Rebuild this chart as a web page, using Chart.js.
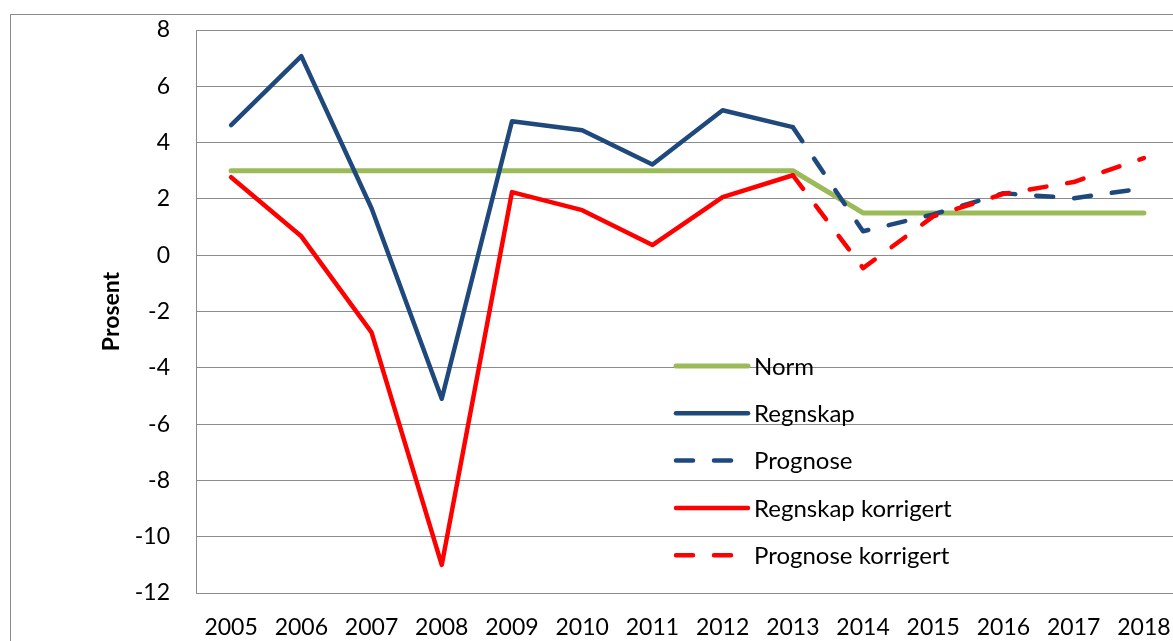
<!DOCTYPE html>
<html>
<head>
<meta charset="utf-8">
<script src="https://cdn.jsdelivr.net/npm/chart.js@4/dist/chart.umd.min.js"></script>
<style>
  html, body { margin: 0; padding: 0; background: #fff; overflow: hidden; }
  #wrap { position: relative; width: 1173px; height: 641px; overflow: hidden; }
  #frame { position: absolute; left: 10px; top: 14px; width: 1300px; height: 800px; border: 1px solid #8c8c8c; }
  #myChart { position: absolute; left: 0; top: 0; }
</style>
</head>
<body>
<div id="wrap">
  <div id="frame"></div>
  <canvas id="myChart" width="1200" height="641"></canvas>
</div>
<script>
// category labels (years)
const years = ['2005', '2006', '2007', '2008', '2009', '2010', '2011', '2012', '2013', '2014', '2015', '2016', '2017', '2018'];

// series values
const norm = [3, 3, 3, 3, 3, 3, 3, 3, 3, 1.5, 1.5, 1.5, 1.5, 1.5];
const regnskap = [4.62, 7.07, 1.67, -5.1, 4.76, 4.44, 3.22, 5.15, 4.55, null, null, null, null, null];
const prognose = [null, null, null, null, null, null, null, null, 4.55, 0.85, 1.45, 2.2, 2.02, 2.38];
const regnskapKorr = [2.77, 0.67, -2.74, -11.0, 2.24, 1.6, 0.36, 2.06, 2.84, null, null, null, null, null];
const prognoseKorr = [null, null, null, null, null, null, null, null, 2.84, -0.46, 1.38, 2.18, 2.6, 3.45];

const yMin = -12, yMax = 8, yStep = 2;

const FONT = 'Lato, "Open Sans", sans-serif';
const BLUE = '#1F497D';
const GREEN = '#9BBB59';
const RED = '#FF0000';
const GRID = '#8c8c8c';

function series(label, data, color, width, dashed, order) {
    return {
        label: label,
        data: data,
        borderColor: color,
        backgroundColor: color,
        borderWidth: width,
        borderDash: dashed ? [17, 21] : [],
        borderCapStyle: 'round',
        borderJoinStyle: 'round',
        pointRadius: 0,
        tension: 0,
        fill: false,
        order: order
    };
}

// legend drawn inside the plot, without a box (like the original)
const insideLegend = {
    id: 'insideLegend',
    afterDraw(chart) {
        const ctx = chart.ctx;
        const x0 = 676, len = 72, y0 = 366, step = 47.3;
        ctx.save();
        ctx.font = '24px ' + FONT;
        ctx.textBaseline = 'middle';
        ctx.fillStyle = '#000';
        chart.data.datasets.forEach((ds, i) => {
            const y = y0 + i * step;
            ctx.strokeStyle = ds.borderColor;
            ctx.lineWidth = ds.borderWidth;
            ctx.lineCap = 'round';
            ctx.setLineDash(ds.borderDash);
            ctx.beginPath();
            ctx.moveTo(x0, y);
            ctx.lineTo(x0 + len, y);
            ctx.stroke();
            ctx.setLineDash([]);
            ctx.fillText(ds.label, x0 + len + 6, y + 1);
        });
        ctx.restore();
    }
};

window.myChart = new Chart(document.getElementById('myChart').getContext('2d'), {
    type: 'line',
    data: {
        labels: years,
        datasets: [
            series('Norm', norm, GREEN, 5, false, 5),
            series('Regnskap', regnskap, BLUE, 4.5, false, 4),
            series('Prognose', prognose, BLUE, 4.5, true, 3),
            series('Regnskap korrigert', regnskapKorr, RED, 4.5, false, 2),
            series('Prognose korrigert', prognoseKorr, RED, 4.5, true, 1)
        ]
    },
    options: {
        responsive: false,
        animation: false,
        layout: { padding: { top: 30, right: 21, left: 0, bottom: 0 } },
        plugins: {
            legend: { display: false },
            tooltip: { enabled: false }
        },
        scales: {
            x: {
                offset: true,
                grid: { display: false, drawTicks: false },
                border: { display: true, color: GRID, width: 1 },
                ticks: {
                    color: '#000',
                    font: { family: FONT, size: 23 },
                    padding: 21,
                    maxRotation: 0,
                    autoSkip: false
                },
                afterFit: scale => { scale.height = 48; }
            },
            y: {
                min: yMin,
                max: yMax,
                grid: { color: GRID, lineWidth: 1, drawTicks: false },
                border: { display: true, color: GRID, width: 1 },
                ticks: {
                    stepSize: yStep,
                    color: '#000',
                    font: { family: FONT, size: 23 },
                    padding: 26
                },
                title: {
                    display: true,
                    text: 'Prosent',
                    color: '#000',
                    font: { family: FONT, size: 23, weight: 'bold' },
                    padding: { top: 98, bottom: 0 }
                },
                afterFit: scale => {
                    scale.width = 196;
                    scale.paddingTop = 0;
                    scale.paddingBottom = 0;
                }
            }
        }
    },
    plugins: [insideLegend]
});
</script>
</body>
</html>
